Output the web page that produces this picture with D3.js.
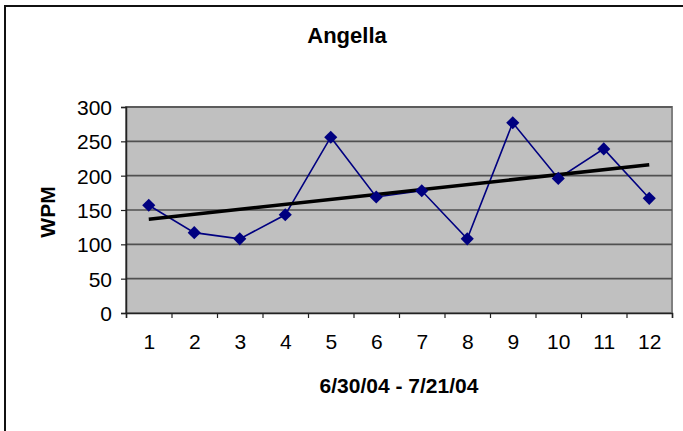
<!DOCTYPE html>
<html>
<head>
<meta charset="utf-8">
<script src="https://cdn.jsdelivr.net/npm/d3@7"></script>
<style>
  body { margin: 0; background: #fff; }
  text { font-family: "Liberation Sans", Arial, sans-serif; }
</style>
</head>
<body>
<div class="container"></div>
<script>
const WIDTH = 683,
    HEIGHT = 431,
    LEFT = 126,
    RIGHT = 672,
    TOP = 107,
    BOTTOM = 313;

const TITLE = 'Angella';
const X_TITLE = '6/30/04 - 7/21/04';
const Y_TITLE = 'WPM';

const sessions = [1, 2, 3, 4, 5, 6, 7, 8, 9, 10, 11, 12];
const wpm = [157, 117, 108, 143, 256, 169, 178, 108, 277, 196, 239, 167];
const yTicks = [0, 50, 100, 150, 200, 250, 300];

const xScale = d3.scaleLinear()
    .domain([0.5, 12.5])
    .range([LEFT, RIGHT]);

const yScale = d3.scaleLinear()
    .domain([0, 300])
    .range([BOTTOM, TOP]);

// least squares trend line, like the spreadsheet's linear trendline
var trend = (xs, ys) => {
    var mx = d3.mean(xs), my = d3.mean(ys);
    var num = d3.sum(xs, (x, i) => (x - mx) * (ys[i] - my));
    var den = d3.sum(xs, (x) => (x - mx) * (x - mx));
    var slope = num / den;
    return (x) => my + slope * (x - mx);
};

var svg = d3.select('.container').append('svg')
    .attr('width', WIDTH)
    .attr('height', HEIGHT);

// outer chart frame (runs off the right and bottom)
svg.append('rect')
    .attr('x', 5).attr('y', 6)
    .attr('width', 720).attr('height', 480)
    .attr('fill', '#fff')
    .attr('stroke', '#111')
    .attr('stroke-width', 2);

// plot area
svg.append('rect')
    .attr('x', LEFT).attr('y', TOP)
    .attr('width', RIGHT - LEFT).attr('height', BOTTOM - TOP)
    .attr('fill', '#c0c0c0')
    .attr('stroke', '#808080')
    .attr('stroke-width', 2);

// gridlines
svg.append('g')
    .selectAll('line')
    .data(yTicks.filter((d) => d > 0))
    .enter().append('line')
    .attr('x1', LEFT).attr('x2', RIGHT)
    .attr('y1', yScale).attr('y2', yScale)
    .attr('stroke', '#505050')
    .attr('stroke-width', 1.6);

// y axis
var yAxis = d3.axisLeft(yScale).tickValues(yTicks).tickSize(5).tickPadding(9);
var gy = svg.append('g')
    .attr('transform', `translate(${LEFT},0)`)
    .call(yAxis);
gy.select('.domain').attr('stroke', '#222').attr('stroke-width', 1.5);
gy.selectAll('.tick line').attr('stroke', '#222').attr('stroke-width', 1.2);
gy.selectAll('text')
    .attr('font-size', 21)
    .attr('fill', '#000')
    .attr('dy', '0.36em');

// x axis: ticks at category boundaries, labels at centres
var bounds = sessions.map((d) => d - 0.5).concat([sessions[sessions.length - 1] + 0.5]);
var xTickAxis = d3.axisBottom(xScale).tickValues(bounds).tickSize(5).tickFormat('');
var gx = svg.append('g')
    .attr('transform', `translate(0,${BOTTOM})`)
    .call(xTickAxis);
gx.select('.domain').attr('stroke', '#222').attr('stroke-width', 1.5);
gx.selectAll('.tick line').attr('stroke', '#222').attr('stroke-width', 1.2);

var xLabelAxis = d3.axisBottom(xScale).tickValues(sessions).tickSize(0).tickPadding(21);
var gxl = svg.append('g')
    .attr('transform', `translate(0,${BOTTOM})`)
    .call(xLabelAxis);
gxl.select('.domain').remove();
gxl.selectAll('text')
    .attr('font-size', 21)
    .attr('fill', '#000');

// data line
var line = d3.line()
    .x((d, i) => xScale(sessions[i]))
    .y((d) => yScale(d));

svg.append('path')
    .attr('d', line(wpm))
    .attr('fill', 'none')
    .attr('stroke', '#000080')
    .attr('stroke-width', 1.6);

// trendline
var fit = trend(sessions, wpm);
var ends = [sessions[0], sessions[sessions.length - 1]];
svg.append('path')
    .attr('d', d3.line().x(xScale).y((x) => yScale(fit(x)))(ends))
    .attr('fill', 'none')
    .attr('stroke', '#000')
    .attr('stroke-width', 3.5);

// markers
svg.append('g')
    .selectAll('path')
    .data(wpm)
    .enter().append('path')
    .attr('d', d3.symbol().type(d3.symbolDiamond2).size(110))
    .attr('transform', (d, i) => `translate(${xScale(sessions[i])},${yScale(d)})`)
    .attr('fill', '#000080');

// titles
svg.append('text')
    .attr('x', 347).attr('y', 43)
    .attr('text-anchor', 'middle')
    .attr('font-size', 22)
    .attr('font-weight', 'bold')
    .text(TITLE);

svg.append('text')
    .attr('x', (LEFT + RIGHT) / 2).attr('y', 393)
    .attr('text-anchor', 'middle')
    .attr('font-size', 21)
    .attr('font-weight', 'bold')
    .text(X_TITLE);

svg.append('text')
    .attr('transform', 'translate(55,212) rotate(-90)')
    .attr('text-anchor', 'middle')
    .attr('font-size', 21)
    .attr('font-weight', 'bold')
    .text(Y_TITLE);
</script>
</body>
</html>
